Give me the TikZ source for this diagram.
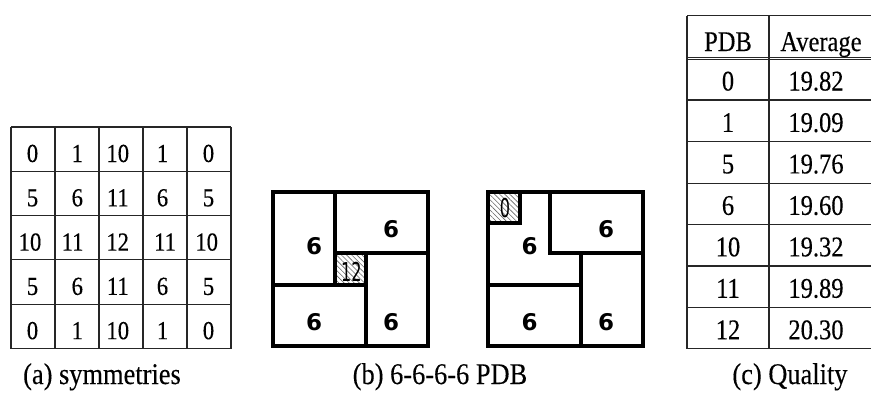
\documentclass[tikz,border=0pt]{standalone}
\usepackage{fontspec}
\setmainfont{Liberation Serif}
\newfontfamily\gridfont[FakeStretch=0.87,FakeBold=0.3]{Liberation Serif}
\newfontfamily\tabfont[FakeStretch=0.86,FakeBold=0.3]{Liberation Serif}
\newfontfamily\capfont[FakeStretch=0.88,FakeBold=0.2]{Liberation Serif}
\newfontfamily\sixfont{DejaVu Sans}
\newfontfamily\narrowfont[FakeStretch=0.62]{DejaVu Sans}
\usetikzlibrary{patterns.meta}
\tikzset{
  gridline/.style={line width=1.1pt, draw=black!85},
  tabline/.style={line width=1.3pt, draw=black!85},
  thickline/.style={line width=3.4pt, line cap=rect, draw=black},
  gridnum/.style={anchor=base, inner sep=0pt, font={\gridfont\fontsize{26}{28}\selectfont}},
  tabtxt/.style={anchor=base, inner sep=0pt, font={\tabfont\fontsize{28.5}{30}\selectfont}},
  captxt/.style={anchor=base, inner sep=0pt, font={\capfont\fontsize{30}{32}\selectfont}},
  sixtxt/.style={anchor=base, inner sep=0pt, font={\sixfont\bfseries\fontsize{23}{25}\selectfont}},
  smalltxt/.style={anchor=base, inner sep=0pt, font={\narrowfont\fontsize{26}{28}\selectfont}},
  hatch/.style={pattern={Lines[angle=-45, distance=3.6pt, line width=0.6pt]}, pattern color=black!60}
}
\begin{document}
\begin{tikzpicture}[x=1pt,y=-1pt]
\useasboundingbox (0,0) rectangle (871,392);
% ---------- (a) symmetries grid ----------
\foreach \xx in {11,55,99,143,187,231}
  \draw[gridline] (\xx,127) -- (\xx,348.5);
\foreach \yy in {127,171.3,215.6,259.9,304.2,348.5}
  \draw[gridline] (11,\yy) -- (231,\yy);
\foreach \r/\a/\b/\c/\d/\e in {0/0/1/10/1/0, 1/5/6/11/6/5, 2/10/11/12/11/10, 3/5/6/11/6/5, 4/0/1/10/1/0}{
  \pgfmathsetmacro{\yb}{127+44.3*\r+35}
  \ifnum\r=2
    \node[gridnum] (g\r a) at (30,\yb) {\a};
    \node[gridnum] (g\r b) at (72.5,\yb) {\b};
    \node[gridnum] (g\r c) at (117.7,\yb) {\c};
    \node[gridnum] (g\r d) at (165,\yb) {\d};
    \node[gridnum] (g\r e) at (206.7,\yb) {\e};
  \else
    \node[gridnum] (g\r a) at (32.5,\yb) {\a};
    \node[gridnum] (g\r b) at (77.3,\yb) {\b};
    \node[gridnum] (g\r c) at (117.8,\yb) {\c};
    \node[gridnum] (g\r d) at (162.5,\yb) {\d};
    \node[gridnum] (g\r e) at (208.5,\yb) {\e};
  \fi
}
\node[captxt] (capa) at (102,384) {(a) symmetries};
% ---------- (b) PDB 1 ----------
\fill[hatch] (335,253) rectangle (366,285);
\draw[thickline] (273,192) rectangle (428,346);
\draw[thickline] (335,192) -- (335,285);
\draw[thickline] (273,285) -- (366,285);
\draw[thickline] (335,253) -- (428,253);
\draw[thickline] (366,253) -- (366,346);
\node[sixtxt] (p1a) at (314,254) {6};
\node[sixtxt] (p1b) at (391,237.5) {6};
\node[sixtxt] (p1c) at (314,330) {6};
\node[sixtxt] (p1d) at (391,330) {6};
\node[smalltxt] (p1s) at (351.5,281) {12};
% ---------- (b) PDB 2 ----------
\fill[hatch] (488,192) rectangle (520,223);
\draw[thickline] (488,192) rectangle (643,346);
\draw[thickline] (520,192) -- (520,223);
\draw[thickline] (488,223) -- (520,223);
\draw[thickline] (550,192) -- (550,253);
\draw[thickline] (550,253) -- (643,253);
\draw[thickline] (581,253) -- (581,346);
\draw[thickline] (488,285) -- (581,285);
\node[sixtxt] (p2a) at (529.5,254) {6};
\node[sixtxt] (p2b) at (606,237.5) {6};
\node[sixtxt] (p2c) at (529.5,330) {6};
\node[sixtxt] (p2d) at (606,330) {6};
\node[smalltxt] (p2s) at (505,217) {0};
\node[captxt] (capb) at (440,384) {(b) 6-6-6-6 PDB};
% ---------- (c) Quality table ----------
\draw[tabline] (687,15.7) -- (872,15.7);
\draw[tabline] (687,15.7) -- (687,348.5);
\draw[tabline] (769,15.7) -- (769,348.5);
\draw[line width=1pt, draw=black!85] (687,57.2) -- (872,57.2);
\draw[line width=1pt, draw=black!85] (687,59.8) -- (872,59.8);
\foreach \yy in {100,141.6,183.2,224.7,266.1,307.4,348.5}
  \draw[tabline] (687,\yy) -- (872,\yy);
\node[tabtxt] (hpdb) at (728,51) {PDB};
\node[tabtxt] (havg) at (821,51) {Average};
\foreach \i/\p/\v in {0/0/19.82, 1/1/19.09, 2/5/19.76, 3/6/19.60, 4/10/19.32, 5/11/19.89, 6/12/20.30}{
  \pgfmathsetmacro{\yb}{100+41.45*\i-9.5}
  \node[tabtxt] (tp\i) at (728,\yb) {\p};
  \node[tabtxt] (tv\i) at (816,\yb) {\v};
}
\node[captxt] (capc) at (790,384) {(c) Quality};
\end{tikzpicture}
\end{document}
